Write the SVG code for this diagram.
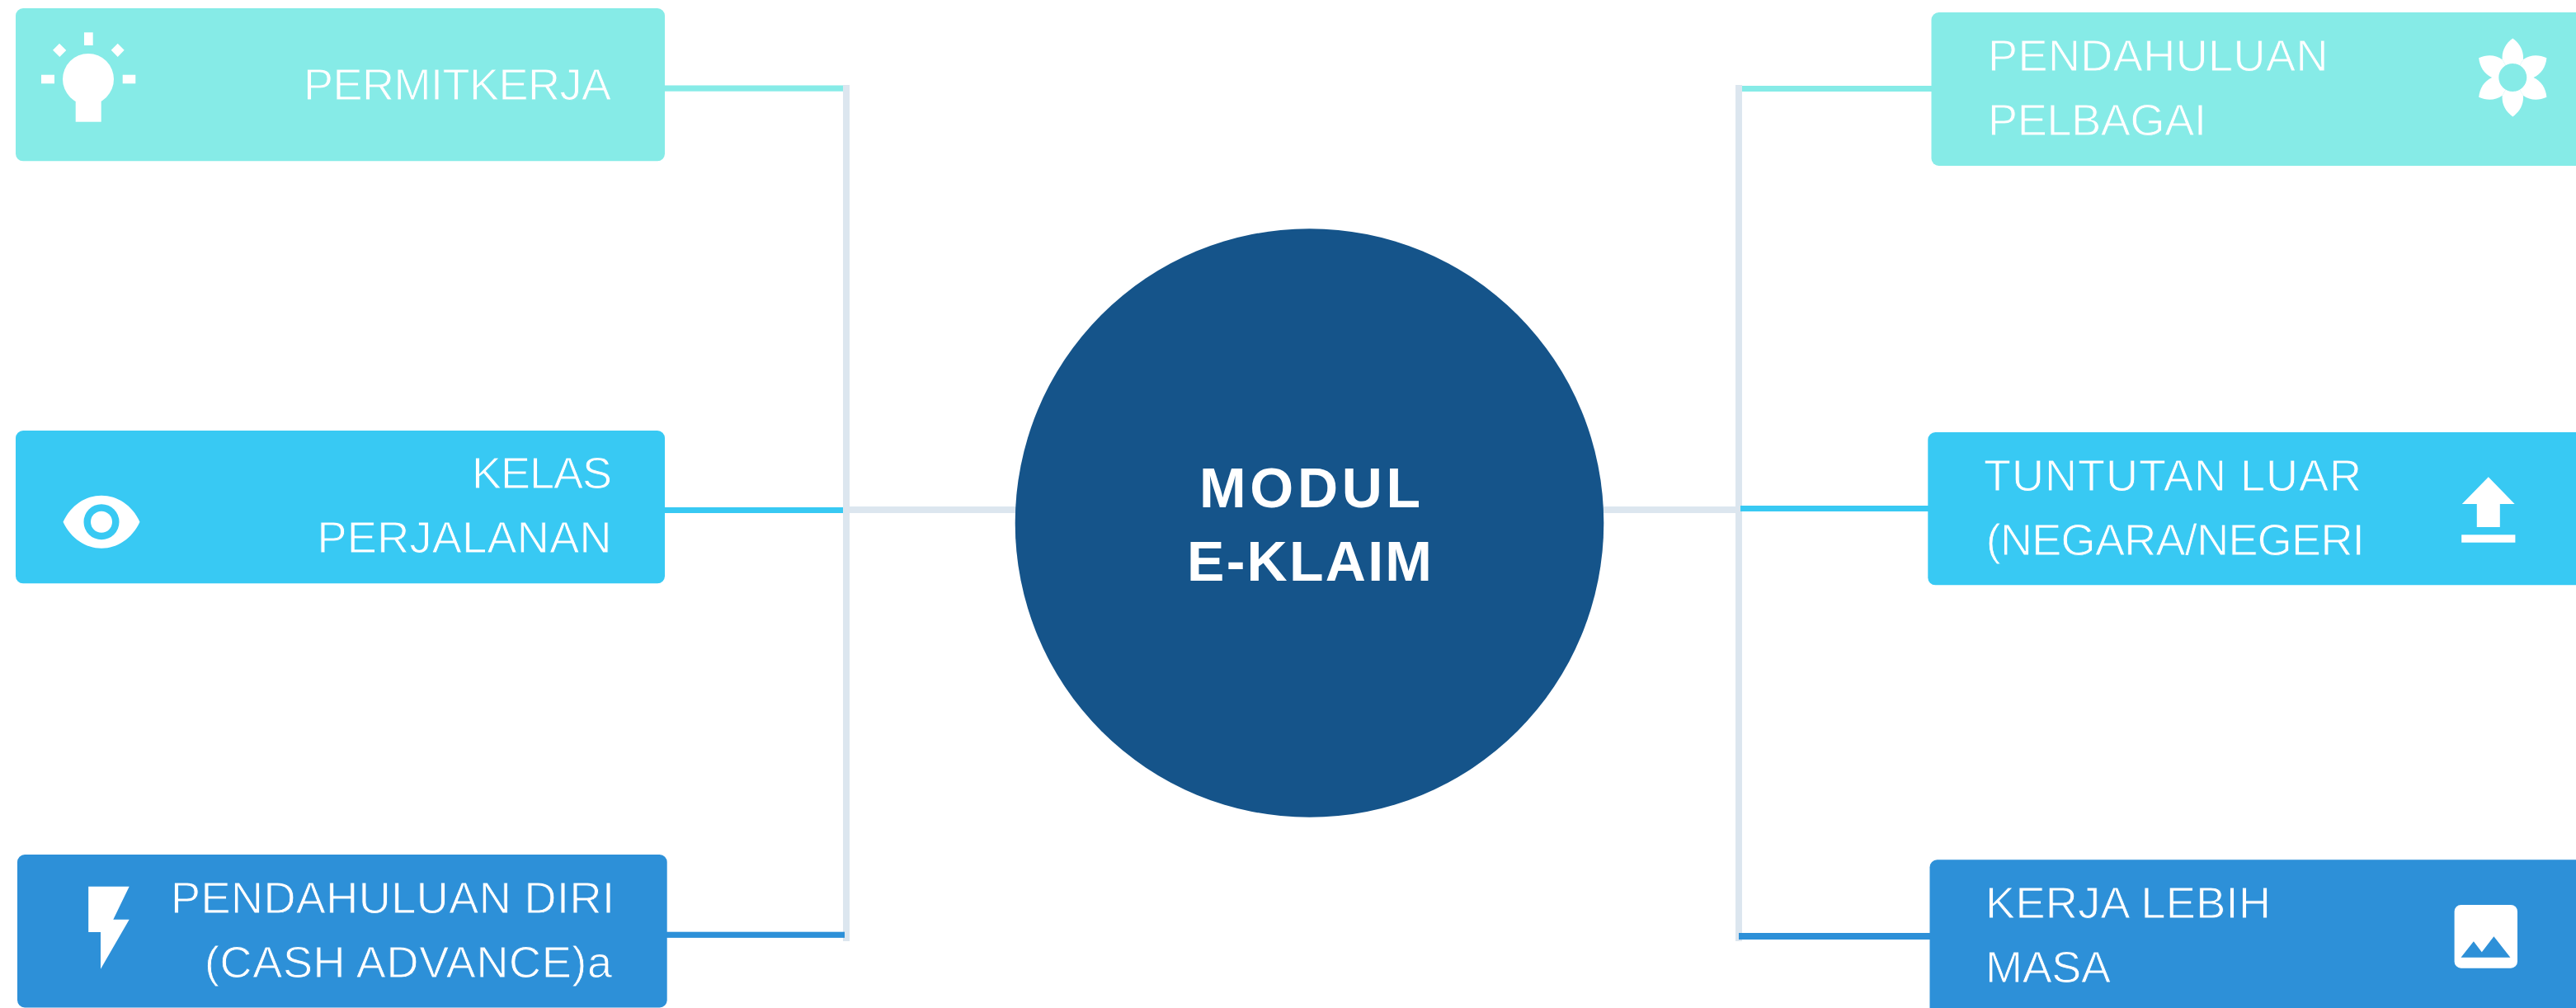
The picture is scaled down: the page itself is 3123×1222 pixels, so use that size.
<svg xmlns="http://www.w3.org/2000/svg" width="3123" height="1222" viewBox="0 0 3123 1222">
<style>
.c1{fill:#86ebe7}.c2{fill:#38c9f3}.c3{fill:#2d90d8}
.g{fill:#dce6ef}
.w{fill:#fff}
.t{font-family:"Liberation Sans",Arial,sans-serif;font-size:54px;fill:#fff;stroke-width:.9px}
.s1{stroke:#86ebe7}.s2{stroke:#38c9f3}.s3{stroke:#2d90d8}
.h{font-family:"Liberation Sans",Arial,sans-serif;font-size:68px;font-weight:700;fill:#fff}
</style>
<defs>
<path id="petal" d="M0-47.5C9-41 13.5-32 12.6-21.8L0 0-12.6-21.8C-13.500-32-9-41 0-47.500Z"/>
</defs>
<rect width="3123" height="1222" fill="#fff"/>
<g id="connectors">
<rect class="c1" x="806" y="103.500" width="216" height="7.200"/>
<rect class="c2" x="806" y="615" width="216" height="7"/>
<rect class="g" x="1022" y="103" width="8" height="1038"/>
<rect class="g" x="1022" y="614" width="209" height="8"/>
<rect class="c3" x="808" y="1129.700" width="216" height="7.200"/>
<rect class="c1" x="2112" y="104" width="230" height="7"/>
<rect class="g" x="2104" y="103" width="8" height="1038"/>
<rect class="g" x="1944" y="614" width="160" height="8"/>
<rect class="c2" x="2110" y="613" width="228" height="7"/>
<rect class="c3" x="2108" y="1131" width="232" height="8"/>
</g>
<g id="center">
<circle cx="1587.500" cy="634" r="356.800" fill="#15548a"/>
<text class="h" x="1454" y="615" textLength="268">MODUL</text>
<text class="h" x="1439" y="703.500" textLength="297">E-KLAIM</text>
</g>
<g id="node-permitkerja">
<rect class="c1" x="19" y="10" width="787" height="185.300" rx="9"/>
<g class="w">
<circle cx="107" cy="96" r="31"/>
<rect x="91.700" y="118" width="31" height="29.700"/>
<rect x="102" y="39.300" width="10.700" height="15.700"/>
<rect x="50" y="90.700" width="16" height="10.600"/>
<rect x="148.700" y="90.700" width="15.600" height="10.600"/>
<path d="M64 60.700 72 52.700 80.300 61 72.300 69ZM134.700 60.700 142.700 52.700 150.700 60.700 142.700 69Z"/>
</g>
<text class="t s1" x="368" y="120.700" textLength="373">PERMITKERJA</text>
</g>
<g id="node-kelas-perjalanan">
<rect class="c2" x="19" y="522" width="787" height="185.300" rx="9"/>
<path class="w" d="M76.500 632.700C86 612 104 600.700 123 600.700S160 612 169.500 632.700C160 653 142 664.700 123 664.700S86 653 76.500 632.700Z"/>
<circle class="c2" cx="123" cy="632.700" r="21.500"/>
<circle class="w" cx="123" cy="632.700" r="13"/>
<text class="t s2" x="572" y="592" textLength="170">KELAS</text>
<text class="t s2" x="384.500" y="670" textLength="357">PERJALANAN</text>
</g>
<g id="node-pendahuluan-diri">
<rect class="c3" x="21" y="1036" width="787.700" height="185.400" rx="9"/>
<path class="w" d="M107.200 1074.700H156.700L137.300 1114.700H156.700L122 1174.700V1130H107.200Z"/>
<text class="t s3" x="207" y="1106.700" textLength="538">PENDAHULUAN DIRI</text>
<text class="t s3" x="248" y="1184.700" textLength="494">(CASH ADVANCE)a</text>
</g>
<g id="node-pendahuluan-pelbagai">
<rect class="c1" x="2341.500" y="15" width="790" height="186" rx="9"/>
<g class="w" transform="translate(3046.300 94)">
<use href="#petal"/>
<use href="#petal" transform="rotate(60)"/>
<use href="#petal" transform="rotate(120)"/>
<use href="#petal" transform="rotate(180)"/>
<use href="#petal" transform="rotate(240)"/>
<use href="#petal" transform="rotate(300)"/>
</g>
<circle class="c1" cx="3046.300" cy="94" r="17"/>
<text class="t s1" x="2410" y="85.700" textLength="412.500">PENDAHULUAN</text>
<text class="t s1" x="2410" y="163.700" textLength="265">PELBAGAI</text>
</g>
<g id="node-tuntutan-luar">
<rect class="c2" x="2337.300" y="524" width="794" height="185.300" rx="9"/>
<path class="w" d="M3016.800 578.300 3048.700 611H3030.800V639H3002.800V611H2984.800Z"/>
<rect class="w" x="2984.200" y="648.300" width="65.200" height="9.400"/>
<text class="t s2" x="2405" y="594.700" textLength="458">TUNTUTAN LUAR</text>
<text class="t s2" x="2407.700" y="672.700" textLength="459">(NEGARA/NEGERI</text>
</g>
<g id="node-kerja-lebih-masa">
<rect class="c3" x="2339.500" y="1042.300" width="792" height="190" rx="9"/>
<rect class="w" x="2975.600" y="1097" width="76.400" height="76.700" rx="8"/>
<path class="c3" d="M2983.500 1160.700 2998.900 1141.300 3008.800 1154.300 3023.400 1135.300 3043.400 1160.700Z"/>
<text class="t s3" x="2407" y="1113" textLength="346">KERJA LEBIH</text>
<text class="t s3" x="2407" y="1191" textLength="152">MASA</text>
</g>
</svg>
